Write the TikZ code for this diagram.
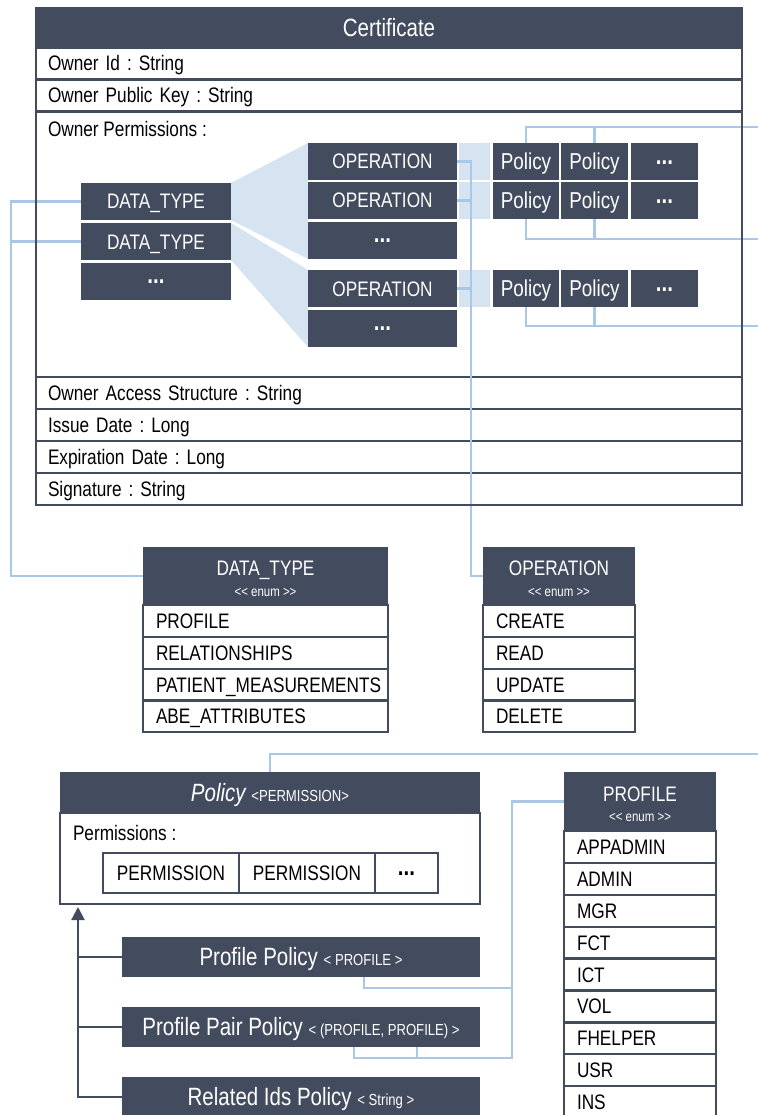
\documentclass[tikz,border=0pt]{standalone}
\usepackage{fontspec}
\usetikzlibrary{arrows.meta,calc,fit}
\newfontfamily\uml{Liberation Sans}[FakeStretch=0.82]
\definecolor{umldark}{HTML}{434B5E}
\definecolor{link}{HTML}{A9C8E8}
\definecolor{fanfill}{HTML}{D6E4F2}
\newcommand\umlbase{\uml\fontsize{21}{24}\selectfont}
\newcommand\umlmid{\uml\fontsize{23}{26}\selectfont}
\newcommand\umlbig{\uml\fontsize{25}{28}\selectfont}
\newcommand\umlsmall{\uml\fontsize{16}{19}\selectfont}
\newcommand\umltiny{\uml\fontsize{14}{16}\selectfont}
\newcommand\umldots{\raisebox{5.5pt}{\fontsize{25}{28}\selectfont\bfseries...}}
\pgfdeclarelayer{rows}
\pgfdeclarelayer{links}
\pgfdeclarelayer{frame}
\pgfsetlayers{rows,links,main,frame}
\begin{document}
\frenchspacing
\begin{tikzpicture}[x=1pt,y=-1pt,
  every node/.style={inner sep=0pt, outer sep=0pt},
  darkbox/.style={fill=umldark, text=white, font=\umlbase, text height=15pt, text depth=0pt},
  bigbox/.style={darkbox, font=\umlbig, text height=17.9pt},
  polbox/.style={darkbox, font=\umlmid, text height=16.5pt, minimum height=37pt},
  certrow/.style={draw=umldark, line width=2.4pt, fill=white, minimum width=706pt,
    minimum height=32pt, text width=682pt, inner xsep=12pt, align=left,
    font=\umlbase, text height=15pt, text depth=0pt},
  enumrow/.style={draw=umldark, line width=2.2pt, fill=white, minimum height=31.8pt,
    text width=#1, inner xsep=13pt, align=left,
    font=\umlbase, text height=15pt, text depth=0pt},
  cell/.style={draw=umldark, line width=2.4pt, fill=white, minimum height=40pt,
    font=\umlbase, text height=15pt, text depth=0pt},
  label/.style={font=\umlbase, text height=15pt, text depth=0pt},
  hdrtitle/.style={text=white, font=\umlbase, text height=15pt, text depth=0pt},
  stereo/.style={text=white, font=\umltiny, text height=7.3pt, text depth=0pt},
  lightrect/.style={fill=fanfill, minimum width=31pt, minimum height=37pt},
  conn/.style={draw=link, line width=2.4pt},
  inh/.style={draw=umldark, line width=2.2pt}
]
\useasboundingbox (0,0) rectangle (757,1115);

% ---------- Certificate class ----------
\begin{pgfonlayer}{rows}
  \fill[white] (0,0) rectangle (757,1115);
  \node[bigbox, minimum width=706pt, minimum height=39.5pt] (certhead) at (389,27.75) {Certificate};
  \node[certrow] (ownerid) at (389,63.5) {Owner Id : String};
  \node[certrow] (pubkey) at (389,95.5) {Owner Public Key : String};
  \node[certrow, minimum height=265.5pt] (perms) at (389,244.25) {};
  \node[label, anchor=west] (permslabel) at (48,129) {Owner Permissions :};
  \node[certrow] (access) at (389,393) {Owner Access Structure : String};
  \node[certrow] (issue) at (389,425) {Issue Date : Long};
  \node[certrow] (expiry) at (389,457) {Expiration Date : Long};
  \node[certrow] (signature) at (389,489) {Signature : String};
\end{pgfonlayer}

% data types of the permission map
\node[darkbox, minimum width=150pt, minimum height=37pt] (dt1) at (156,201.5) {DATA\_TYPE};
\node[darkbox, minimum width=150pt, minimum height=37pt] (dt2) at (156,241.5) {DATA\_TYPE};
\node[darkbox, minimum width=150pt, minimum height=37pt] (dt3) at (156,281.5) {\umldots};

% operations per data type
\node[darkbox, minimum width=149pt, minimum height=37pt] (op1) at (382.5,161.5) {OPERATION};
\node[darkbox, minimum width=149pt, minimum height=37pt] (op2) at (382.5,200.5) {OPERATION};
\node[darkbox, minimum width=149pt, minimum height=37pt] (opmore1) at (382.5,240.5) {\umldots};
\node[darkbox, minimum width=149pt, minimum height=37pt] (op3) at (382.5,288.5) {OPERATION};
\node[darkbox, minimum width=149pt, minimum height=37pt] (opmore2) at (382.5,328.5) {\umldots};

% policies per operation
\node[polbox, minimum width=66pt] (pa1) at (526,161.5) {Policy};
\node[polbox, minimum width=67pt] (pb1) at (594.5,161.5) {Policy};
\node[polbox, minimum width=67pt] (pc1) at (664.5,161.5) {\umldots};
\node[polbox, minimum width=66pt] (pa2) at (526,200.5) {Policy};
\node[polbox, minimum width=67pt] (pb2) at (594.5,200.5) {Policy};
\node[polbox, minimum width=67pt] (pc2) at (664.5,200.5) {\umldots};
\node[polbox, minimum width=66pt] (pa3) at (526,288.5) {Policy};
\node[polbox, minimum width=67pt] (pb3) at (594.5,288.5) {Policy};
\node[polbox, minimum width=67pt] (pc3) at (664.5,288.5) {\umldots};

% ---------- DATA_TYPE enum ----------
\node[darkbox, minimum width=245pt, minimum height=58pt] (dthead) at (265.5,576) {};
\node[hdrtitle] (dtname) at ([yshift=8pt]dthead.center) {DATA\_TYPE};
\node[stereo] (dtstereo) at ([yshift=-16.5pt]dthead.center) {<< enum >>};
\foreach \lbl [count=\i] in {PROFILE,RELATIONSHIPS,PATIENT\_MEASUREMENTS,ABE\_ATTRIBUTES}
  \node[enumrow=219pt] (dtrow\i) at (265.5,{589.1+31.8*\i}) {\lbl};

% ---------- OPERATION enum ----------
\node[darkbox, minimum width=152pt, minimum height=58pt] (ophead) at (559,576) {};
\node[hdrtitle] (opname) at ([yshift=8pt]ophead.center) {OPERATION};
\node[stereo] (opstereo) at ([yshift=-16.5pt]ophead.center) {<< enum >>};
\foreach \lbl [count=\i] in {CREATE,READ,UPDATE,DELETE}
  \node[enumrow=126pt] (oprow\i) at (559,{589.1+31.8*\i}) {\lbl};

% ---------- Policy class ----------
\node[draw=umldark, line width=2.4pt, fill=white, minimum width=420pt, minimum height=91pt] (polbody) at (270,858.5) {};
\node[bigbox, minimum width=420pt, minimum height=41pt] (polhead) at (270,792.5)
  {{\itshape Policy} {\umlsmall <PERMISSION>}};
\node[label, anchor=west] (permlbl) at (73,833) {Permissions :};
\node[cell, minimum width=136pt] (perm1) at (171,873) {PERMISSION};
\node[cell, minimum width=136pt] (perm2) at (307,873) {PERMISSION};
\node[cell, minimum width=63pt] (permmore) at (406.5,873) {\umldots};

% subclasses
\node[bigbox, minimum width=358pt, minimum height=40pt] (pp1) at (301,957)
  {Profile Policy {\umlsmall < PROFILE >}};
\node[bigbox, minimum width=358pt, minimum height=40pt] (pp2) at (301,1027)
  {Profile Pair Policy {\umlsmall < (PROFILE, PROFILE) >}};
\node[bigbox, minimum width=358pt, minimum height=40pt] (pp3) at (301,1097)
  {Related Ids Policy {\umlsmall < String >}};

% ---------- PROFILE enum ----------
\node[darkbox, minimum width=152pt, minimum height=59pt] (profhead) at (640,801.5) {};
\node[hdrtitle] (profname) at ([yshift=8pt]profhead.center) {PROFILE};
\node[stereo] (profstereo) at ([yshift=-16pt]profhead.center) {<< enum >>};
\foreach \lbl [count=\i] in {APPADMIN,ADMIN,MGR,FCT,ICT,VOL,FHELPER,USR,INS}
  \node[enumrow=126pt] (profrow\i) at (640,{815+31.9*\i}) {\lbl};

% ---------- projections and links ----------
\coordinate (lbus) at (11,0);
\coordinate (obus) at (471,0);
\coordinate (pbus) at (512,0);
\coordinate (ibus) at (78,0);
\coordinate (k1) at (364,0);
\coordinate (k2) at (354,0);
\coordinate (k3) at (417,0);
\coordinate (r1) at (760,127);
\coordinate (r2) at (760,239);
\coordinate (r3) at (760,326);
\coordinate (r4) at (760,754);

\begin{pgfonlayer}{links}
  \fill[fanfill] (dt1.north east) -- (op1.north west) -- (opmore1.south west) -- (dt1.south east) -- cycle;
  \fill[fanfill] (dt2.north east) -- (op3.north west) -- (opmore2.south west) -- (dt2.south east) -- cycle;
  \node[lightrect] (lr1) at (474.5,161.5) {};
  \node[lightrect] (lr2) at (474.5,200.5) {};
  \node[lightrect] (lr3) at (474.5,288.5) {};

  \draw[conn] (dt1.west) -- (dt1.west -| lbus) |- (dthead.west);
  \draw[conn] (dt2.west) -- (dt2.west -| lbus);
  \draw[conn] (op1.east) -- (op1.east -| obus) |- (ophead.west);
  \draw[conn] (op2.east) -- (op2.east -| obus);
  \draw[conn] (op3.east) -- (op3.east -| obus);

  \draw[conn] (pa1.north) |- (r1);
  \draw[conn] (pb1.north) -- (pb1.north |- r1);
  \draw[conn] (pa2.south) |- (r2);
  \draw[conn] (pb2.south) -- (pb2.south |- r2);
  \draw[conn] (pa3.south) |- (r3);
  \draw[conn] (pb3.south) -- (pb3.south |- r3);
  \draw[conn] (polhead.north) |- (r4);

  \draw[conn] (profhead.west) -- (profhead.west -| pbus) -- ($(pp2.south -| pbus)+(0,11)$)
    -- ($(pp2.south -| k2)+(0,11)$) -- (pp2.south -| k2);
  \draw[conn] ($(pp2.south -| k3)+(0,11)$) -- (pp2.south -| k3);
  \draw[conn] (pp1.south -| k1) -- ($(pp1.south -| k1)+(0,11)$) -- ($(pp1.south -| pbus)+(0,11)$);

  \draw[inh, -{Triangle[length=13pt,width=13pt]}] (pp3.west) -- (pp3.west -| ibus)
    -- ($(ibus |- polbody.south)+(0,3)$);
  \draw[inh] (pp1.west) -- (pp1.west -| ibus);
  \draw[inh] (pp2.west) -- (pp2.west -| ibus);
\end{pgfonlayer}

% outer frame of the certificate
\begin{pgfonlayer}{frame}
  \node[fit=(certhead)(signature), draw=umldark, line width=2.6pt, inner sep=0pt] (cert) {};
\end{pgfonlayer}
\end{tikzpicture}
\end{document}
